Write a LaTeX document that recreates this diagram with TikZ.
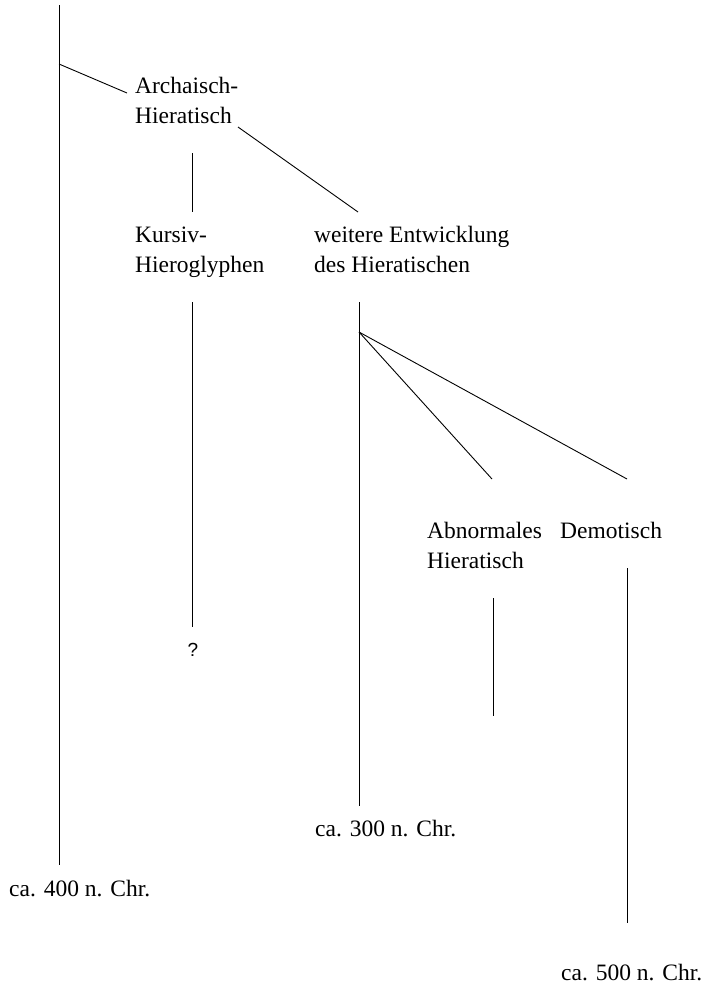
\documentclass[tikz,border=0pt]{standalone}
\usepackage{fontspec}
\setmainfont{Liberation Serif}
\newfontfamily\qfont{Liberation Sans}
\begin{document}
\begin{tikzpicture}[x=1pt,y=-1pt,
  lab/.style={anchor=base west, inner sep=0pt, align=left,
    font=\fontsize{23.5}{29.5}\selectfont},
  ln/.style={line width=0.9pt, line cap=butt}]
\useasboundingbox (0,0) rectangle (711,986);
% labels (base anchor = baseline of the last line)
\node[lab] (arch) at (135,123) {Archaisch-\\Hieratisch};
\node[lab] (kurs) at (135,272) {Kursiv-\\Hieroglyphen};
\node[lab] (weit) at (314,272) {weitere Entwicklung\\des Hieratischen};
\node[lab] (abn) at (427,568) {Abnormales\\Hieratisch};
\node[lab] (dem) at (560,538) {Demotisch};
\node[inner sep=0pt, font=\qfont\fontsize{19}{19}\selectfont] (q) at (193,650) {?};
\node[lab] (c300) at (315,836) {ca. 300 n. Chr.};
\node[lab] (c400) at (9,896) {ca. 400 n. Chr.};
\node[lab] (c500) at (561,980) {ca. 500 n. Chr.};
% coordinates
\coordinate (top) at (59,5);
\coordinate (mainend) at (59,865);
\coordinate (mainbr) at (59,64);
\coordinate (archin) at (127,93);
\coordinate (archout) at (238,127);
\coordinate (weitin) at (358,212);
\coordinate (kursA) at (192.7,153);
\coordinate (kursB) at (192.7,212);
\coordinate (kursC) at (192.7,302);
\coordinate (kursD) at (192.7,627);
\coordinate (weitA) at (359,302);
\coordinate (weitbr) at (359,332);
\coordinate (weitB) at (359,806);
\coordinate (abnin) at (492,479);
\coordinate (demin) at (627,479);
\coordinate (abnA) at (493,598);
\coordinate (abnB) at (493,716);
\coordinate (demA) at (627,568);
\coordinate (demB) at (627,923);
% connectors
\draw[ln] (top) -- (mainend);
\draw[ln] (mainbr) -- (archin);
\draw[ln] (archout) -- (weitin);
\draw[ln] (kursA) -- (kursB);
\draw[ln] (kursC) -- (kursD);
\draw[ln] (weitA) -- (weitB);
\draw[ln] (weitbr) -- (abnin);
\draw[ln] (weitbr) -- (demin);
\draw[ln] (abnA) -- (abnB);
\draw[ln] (demA) -- (demB);
\end{tikzpicture}
\end{document}
